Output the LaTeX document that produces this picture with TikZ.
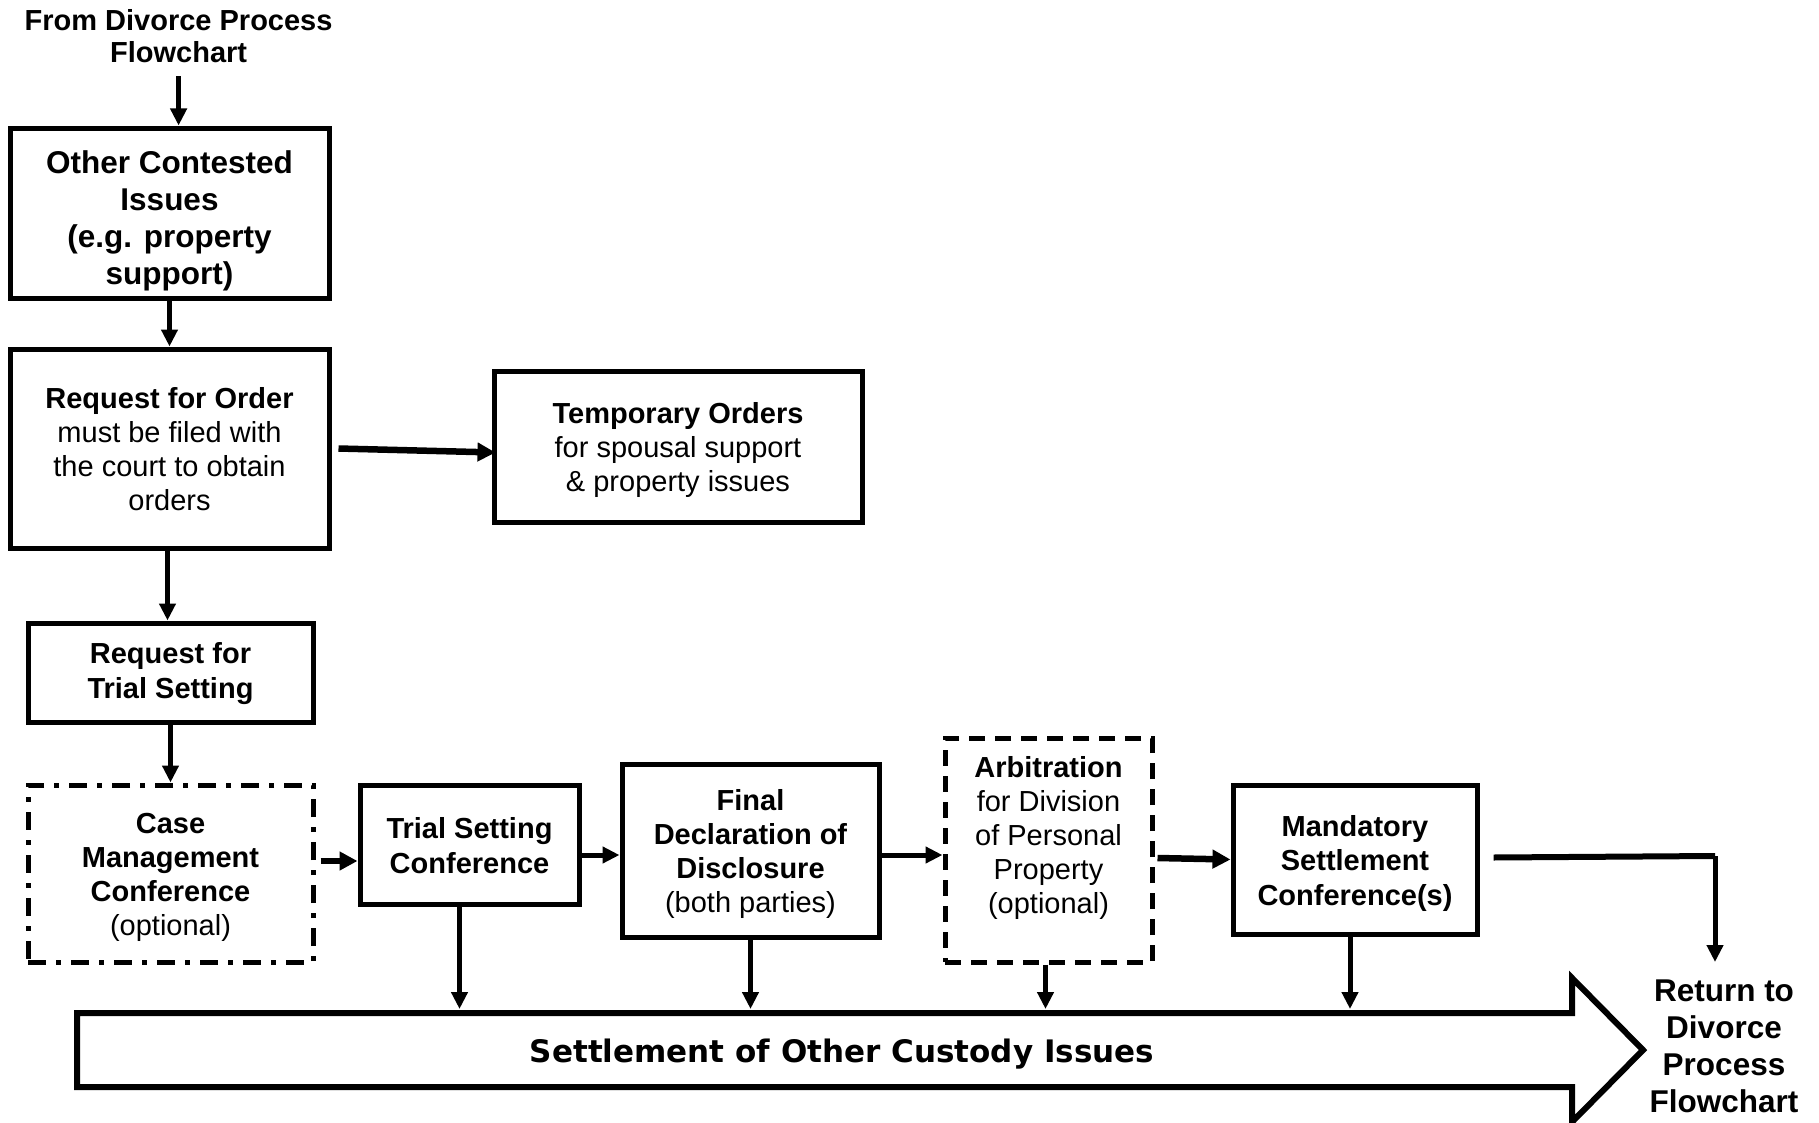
\documentclass[tikz,border=0pt]{standalone}
\usepackage{fontspec}
\setmainfont{Liberation Sans}
\newfontfamily\heavyfont{DejaVu Sans}
\usetikzlibrary{arrows.meta}
\newcommand\toprule[1][28pt]{\rule{0pt}{#1}}
\newcommand\botrule[1][6pt]{\rule[-#1]{0pt}{0pt}}
\tikzset{
  box/.style={draw, line width=5pt, align=center, inner sep=0pt, font=\fontsize{29}{34}\selectfont},
  solidbox/.style={box},
  dashbox/.style={box, dash pattern=on 16pt off 10pt},
  dotdashbox/.style={box, dash pattern=on 18pt off 10pt on 5pt off 10pt},
  arr/.style={line width=5pt, -{Triangle[length=17pt,width=16pt]}},
  thickarr/.style={line width=6.5pt, -{Triangle[length=18pt,width=18pt]}},
  plainline/.style={line width=6pt},
  bigfont/.style={font=\fontsize{31.5}{37}\selectfont\bfseries, align=center, inner sep=0pt},
}
\begin{document}
\begin{tikzpicture}[x=1pt,y=-1pt]
\useasboundingbox (0,0) rectangle (1819,1123);
\fill[white] (0,0) rectangle (1819,1123);

% source text
\node[font=\fontsize{29}{32.5}\selectfont\bfseries, align=center, inner sep=0pt] (src) at (178.6,36) {From Divorce Process\\Flowchart};

% boxes
\node[solidbox, minimum width=319pt, minimum height=169pt, font=\fontsize{31.5}{37}\selectfont\bfseries] (oci) at (169.5,213.5) {\toprule[37pt]Other Contested\\Issues\\(e.g. property\\support)\botrule[6.6pt]};
\node[solidbox, minimum width=319pt, minimum height=199pt] (req) at (169.5,448.5) {\toprule\textbf{Request for Order}\\must be filed with\\the court to obtain\\orders\botrule};
\node[solidbox, minimum width=368pt, minimum height=151pt] (temp) at (678,446.5) {\toprule\textbf{Temporary Orders}\\for spousal support\\\& property issues\botrule};
\node[solidbox, minimum width=285pt, minimum height=99pt, font=\fontsize{29}{35}\selectfont\bfseries] (rts) at (170.5,672.5) {\toprule[24pt]Request for\\Trial Setting\botrule};
\node[dotdashbox, minimum width=285pt, minimum height=177pt] (cmc) at (170.5,873.5) {\toprule\textbf{Case}\\\textbf{Management}\\\textbf{Conference}\\(optional)\botrule};
\node[solidbox, minimum width=219pt, minimum height=119pt, font=\fontsize{29}{35}\selectfont\bfseries] (tsc) at (469.5,844.5) {\toprule Trial Setting\\Conference\botrule};
\node[solidbox, minimum width=257pt, minimum height=173pt] (fdd) at (750.5,850.5) {\toprule\textbf{Final}\\\textbf{Declaration of}\\\textbf{Disclosure}\\(both parties)\botrule};
\node[dashbox, minimum width=207pt, minimum height=224pt] (arb) at (1048.5,850) {};
\node[box, draw=none, fill=none] (arbtext) at (1048.5,834.7) {\toprule\textbf{Arbitration}\\for Division\\of Personal\\Property\\(optional)\botrule};
\node[solidbox, minimum width=244pt, minimum height=149pt, font=\fontsize{29}{34.5}\selectfont\bfseries] (msc) at (1355,859.5) {\toprule Mandatory\\Settlement\\Conference(s)\botrule};

% return text
\node[bigfont] (ret) at (1724,1045) {\toprule[30pt]Return to\\Divorce\\Process\\Flowchart\botrule[6.6pt]};

% big arrow band
\draw[line width=6pt, line join=miter, fill=white] (77,1013) -- (1572,1013) -- (1572,978) -- (1643,1050) -- (1572,1122) -- (1572,1087) -- (77,1087) -- cycle;
\node[font=\fontsize{31}{36}\heavyfont\bfseries, inner sep=0pt] (settle) at (842,1054.5) {Settlement of Other Custody Issues};
\coordinate (bandtop) at (0,1009);

% connectors
\draw[arr] ([yshift=-13pt]src.south) -- ([yshift=1pt]src.south |- oci.north);
\draw[arr] (oci.south) -- (req.north);
\draw[thickarr] ([xshift=7pt]req.east) -- ([yshift=-6pt,xshift=4pt]temp.west);
\draw[arr] ([xshift=-2pt]req.south) -- ([xshift=-2pt]req.south |- rts.north);
\draw[arr] (rts.south) -- (cmc.north);
\draw[thickarr] ([xshift=5pt,yshift=12.5pt]cmc.east) -- ([yshift=12.5pt]cmc.east -| tsc.west);
\draw[arr] ([yshift=-10.5pt]tsc.east) -- ([yshift=-10.5pt]tsc.east -| fdd.west);
\draw[arr] ([yshift=-4.5pt]fdd.east) -- ([yshift=-4.5pt]fdd.east -| arb.west);
\draw[thickarr] ([xshift=3pt,yshift=-8pt]arb.east) -- (msc.west);
\coordinate (turn) at (1715,856);
\draw[plainline] ([xshift=14pt,yshift=2pt]msc.east) -- (turn);
\draw[arr] (turn) -- ([yshift=9pt]turn |- ret.north);

\draw[arr] ([xshift=-10pt]tsc.south) -- ([xshift=-10pt]tsc.south |- bandtop);
\draw[arr] (fdd.south) -- (fdd.south |- bandtop);
\draw[arr] ([xshift=-3pt]arb.south) -- ([xshift=-3pt]arb.south |- bandtop);
\draw[arr] ([xshift=-5pt]msc.south) -- ([xshift=-5pt]msc.south |- bandtop);
\end{tikzpicture}
\end{document}
